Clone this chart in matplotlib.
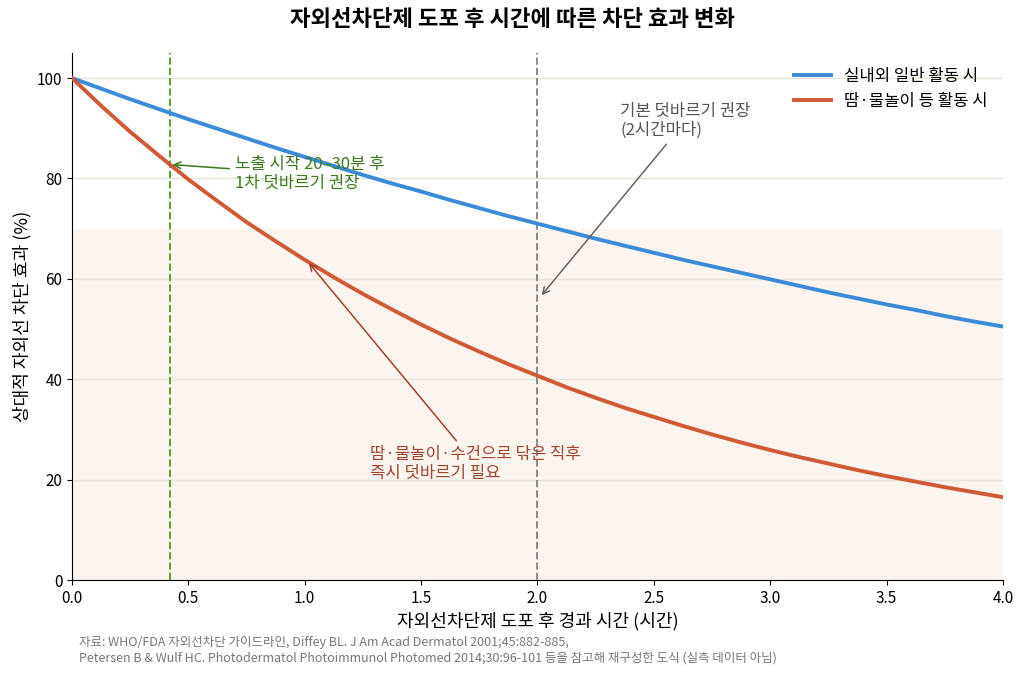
import matplotlib
matplotlib.use("Agg")
import matplotlib.pyplot as plt

plt.rcParams['font.family'] = ['Noto Sans CJK KR', 'DejaVu Sans']
plt.rcParams['axes.unicode_minus'] = False

# 경과 시간 (시간)
hours = [0.0, 0.125, 0.25, 0.375, 0.5, 0.625, 0.75, 0.875, 1.0,
         1.125, 1.25, 1.375, 1.5, 1.625, 1.75, 1.875, 2.0,
         2.125, 2.25, 2.375, 2.5, 2.625, 2.75, 2.875, 3.0,
         3.125, 3.25, 3.375, 3.5, 3.625, 3.75, 3.875, 4.0]
# 실내외 일반 활동 시
indoor = [100.0, 97.9, 95.8, 93.8, 91.8, 89.9, 88.0, 86.1, 84.3,
          82.5, 80.7, 79.0, 77.4, 75.7, 74.1, 72.5, 71.0,
          69.5, 68.0, 66.6, 65.2, 63.8, 62.5, 61.2, 59.9,
          58.6, 57.3, 56.1, 54.9, 53.8, 52.6, 51.5, 50.5]
# 땀·물놀이 등 활동 시
sweat = [100.0, 94.5, 89.3, 84.5, 79.8, 75.5, 71.3, 67.5, 63.8,
         60.3, 57.0, 53.9, 50.9, 48.1, 45.5, 43.0, 40.7,
         38.4, 36.3, 34.3, 32.5, 30.7, 29.0, 27.4, 25.9,
         24.5, 23.2, 21.9, 20.7, 19.6, 18.5, 17.5, 16.5]

series_labels = ["실내외 일반 활동 시", "땀·물놀이 등 활동 시"]
first_reapply = 0.42
regular_reapply = 2.0
shade_top = 70

fig = plt.figure(figsize=(10.24, 6.75), dpi=100)
ax = fig.add_axes([0.0703, 0.1407, 0.9092, 0.7808])

ax.axhspan(0, shade_top, color="#fcf4ef", zorder=0)
ax.grid(axis="y", color="#e6e4da", linewidth=1, zorder=1)
ax.set_axisbelow(True)

ax.plot(hours, indoor, color="#3b8bd9", linewidth=2.8, label=series_labels[0], zorder=3)
ax.plot(hours, sweat, color="#d05a33", linewidth=2.8, label=series_labels[1], zorder=3)

ax.axvline(first_reapply, color="#5f9e2c", linestyle="--", linewidth=1.4, zorder=2)
ax.axvline(regular_reapply, color="#8a8a8a", linestyle="--", linewidth=1.4, zorder=2)

ax.annotate("노출 시작 20–30분 후\n1차 덧바르기 권장",
            xy=(first_reapply, 82.8), xytext=(0.70, 80.8),
            fontsize=12, color="#3d7a1f", va="center", ha="left",
            linespacing=1.15,
            arrowprops=dict(arrowstyle="->", color="#3d7a1f", lw=1.1))
ax.annotate("기본 덧바르기 권장\n(2시간마다)",
            xy=(2.01, 56.3), xytext=(2.355, 91.4),
            fontsize=12, color="#555555", va="center", ha="left",
            linespacing=1.15,
            arrowprops=dict(arrowstyle="->", color="#666666", lw=1.1))
ax.annotate("땀·물놀이·수건으로 닦은 직후\n즉시 덧바르기 필요",
            xy=(1.01, 63.6), xytext=(1.28, 23.2),
            fontsize=12, color="#a0442a", va="center", ha="left",
            linespacing=1.15,
            arrowprops=dict(arrowstyle="->", color="#a0442a", lw=1.1))

ax.set_xlim(0, 4)
ax.set_ylim(0, 105)
ax.set_xticks([0, 0.5, 1.0, 1.5, 2.0, 2.5, 3.0, 3.5, 4.0])
ax.set_yticks([0, 20, 40, 60, 80, 100])
ax.tick_params(labelsize=11)
ax.spines["top"].set_visible(False)
ax.spines["right"].set_visible(False)

ax.set_xlabel("자외선차단제 도포 후 경과 시간 (시간)", fontsize=13)
ax.set_ylabel("상대적 자외선 차단 효과 (%)", fontsize=13)
fig.suptitle("자외선차단제 도포 후 시간에 따른 차단 효과 변화",
             fontsize=16, fontweight="bold", y=0.988)

ax.legend(loc="upper right", frameon=False, fontsize=12,
          bbox_to_anchor=(1.0, 1.0), handlelength=2.2)

fig.text(0.077, 0.037,
         "자료: WHO/FDA 자외선차단 가이드라인, Diffey BL. J Am Acad Dermatol 2001;45:882-885,\n"
         "Petersen B & Wulf HC. Photodermatol Photoimmunol Photomed 2014;30:96-101 등을 참고해 재구성한 도식 (실측 데이터 아님)",
         fontsize=9, color="#777777", va="center", linespacing=1.3)

fig.savefig("out.png", dpi=100)
